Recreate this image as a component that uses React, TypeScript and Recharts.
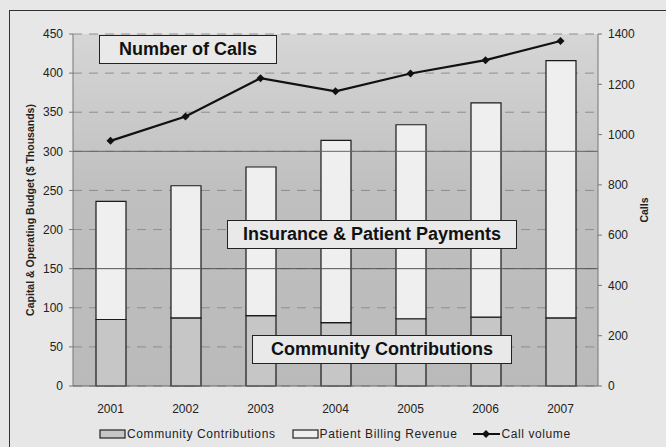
import React from "react";
import { ComposedChart, Bar, Line, XAxis, YAxis, CartesianGrid, ReferenceLine } from "recharts";

const years = ["2001", "2002", "2003", "2004", "2005", "2006", "2007"];
const community = [85, 87, 90, 81, 86, 88, 87];
const patientBilling = [151, 169, 190, 233, 248, 274, 329];
const calls = [975, 1072, 1224, 1172, 1243, 1296, 1372];
const budgetTicks = [0, 50, 100, 150, 200, 250, 300, 350, 400, 450];
const callTicks = [0, 200, 400, 600, 800, 1000, 1200, 1400];

const data = years.map((y, i) => ({
  year: y,
  community: community[i],
  patient: patientBilling[i],
  calls: calls[i],
}));

const font = "'Liberation Sans', Arial, sans-serif";

const Diamond = (props: any) => {
  const { cx, cy } = props;
  if (cx == null || cy == null) return null;
  return <path d={`M${cx},${cy - 4}L${cx + 4},${cy}L${cx},${cy + 4}L${cx - 4},${cy}Z`} fill="#111" />;
};

const boxStyle = (left: number, top: number, w: number, h: number): React.CSSProperties => ({
  position: "absolute",
  left,
  top,
  width: w,
  height: h,
  boxSizing: "border-box",
  border: "1.5px solid #222",
  background: "#e9e9e9",
  fontFamily: font,
  fontWeight: "bold",
  fontSize: 18,
  color: "#111",
  display: "flex",
  alignItems: "center",
  justifyContent: "center",
  whiteSpace: "nowrap",
});

const tickStyle = { fontSize: 12, fill: "#222", fontFamily: font };

export default function App() {
  return (
    <div style={{ position: "absolute", left: 0, top: 0, width: 666, height: 447, background: "#e7e7e7", overflow: "hidden" }}>
      <div style={{ position: "absolute", left: 9, top: 10, width: 660, height: 440, border: "1.5px solid #333", boxSizing: "border-box" }} />
      <div
        style={{
          position: "absolute",
          left: 73,
          top: 34,
          width: 525,
          height: 352,
          background: "linear-gradient(#d6d6d6, #bfbfbf 45%, #bababa)",
        }}
      />
      <div style={{ position: "absolute", left: 0, top: 0 }}>
        <ComposedChart width={666} height={447} data={data} margin={{ top: 34, right: 0, bottom: 31, left: 0 }} barCategoryGap={0}>
          <CartesianGrid vertical={false} stroke="#8e8e8e" strokeDasharray="9 7" yAxisId="left" />
          <XAxis
            dataKey="year"
            height={30}
            axisLine={{ stroke: "#666" }}
            tickLine={false}
            tick={tickStyle}
            tickMargin={12}
          />
          <YAxis
            yAxisId="left"
            width={73}
            domain={[0, 450]}
            ticks={budgetTicks}
            interval={0}
            axisLine={{ stroke: "#777" }}
            tickLine={{ stroke: "#777" }}
            tickSize={4}
            tickMargin={6}
            tick={tickStyle}
            label={{
              value: "Capital & Operating Budget ($ Thousands)",
              angle: -90,
              position: "insideLeft",
              offset: 30,
              style: { textAnchor: "middle", fontSize: 10.5, fontWeight: "bold", fill: "#222", fontFamily: font },
            }}
          />
          <YAxis
            yAxisId="right"
            orientation="right"
            width={68}
            domain={[0, 1400]}
            ticks={callTicks}
            interval={0}
            axisLine={{ stroke: "#777" }}
            tickLine={{ stroke: "#777" }}
            tickSize={4}
            tickMargin={6}
            tick={tickStyle}
            label={{
              value: "Calls",
              angle: -90,
              position: "insideRight",
              offset: 22,
              style: { textAnchor: "middle", fontSize: 10.5, fontWeight: "bold", fill: "#222", fontFamily: font },
            }}
          />
          <ReferenceLine yAxisId="left" y={150} stroke="#555" />
          <ReferenceLine yAxisId="left" y={300} stroke="#666" />
          <Bar yAxisId="left" dataKey="community" stackId="a" fill="#c6c6c6" stroke="#1a1a1a" strokeWidth={1.2} barSize={30} isAnimationActive={false} />
          <Bar yAxisId="left" dataKey="patient" stackId="a" fill="#efefef" stroke="#1a1a1a" strokeWidth={1.2} barSize={30} isAnimationActive={false} />
          <Line yAxisId="right" dataKey="calls" stroke="#111" strokeWidth={2.2} dot={<Diamond />} isAnimationActive={false} />
        </ComposedChart>
      </div>
      <div style={boxStyle(99, 35, 178, 29)}>Number of Calls</div>
      <div style={boxStyle(227, 220, 290, 29)}>Insurance &amp; Patient Payments</div>
      <div style={boxStyle(252, 335, 260, 29)}>Community Contributions</div>
      <div
        style={{
          position: "absolute",
          left: 99,
          top: 426,
          height: 16,
          display: "flex",
          alignItems: "center",
          fontFamily: font,
          fontSize: 12,
          letterSpacing: 0.6,
          color: "#222",
          whiteSpace: "nowrap",
        }}
      >
        <svg width={28} height={10}>
          <rect x={1} y={1} width={25} height={8} fill="#c6c6c6" stroke="#222" strokeWidth={1.2} />
        </svg>
        <span style={{ marginRight: 16 }}>Community Contributions</span>
        <svg width={28} height={10}>
          <rect x={1} y={1} width={25} height={8} fill="#efefef" stroke="#222" strokeWidth={1.2} />
        </svg>
        <span style={{ marginRight: 16 }}>Patient Billing Revenue</span>
        <svg width={28} height={10}>
          <line x1={0} y1={5} x2={27} y2={5} stroke="#111" strokeWidth={2} />
          <path d="M13,1L17,5L13,9L9,5Z" fill="#111" />
        </svg>
        <span>Call volume</span>
      </div>
    </div>
  );
}
